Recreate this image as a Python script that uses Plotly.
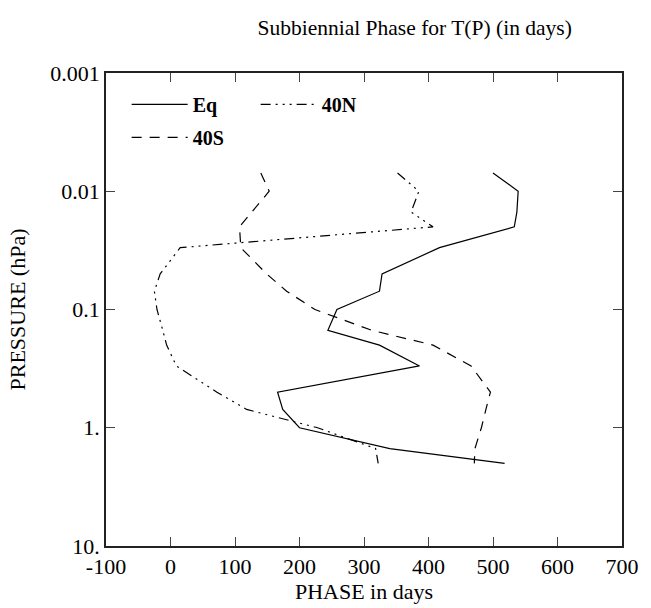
import plotly.graph_objects as go

# Pressure levels (hPa)
pressure = [0.007, 0.01, 0.015, 0.02, 0.03, 0.05, 0.07, 0.1, 0.15, 0.2, 0.3, 0.5, 0.7, 1.0, 1.5, 2.0]

# Phase in days for each series
phase_eq = [500, 539, 537, 533, 417, 328, 324, 258, 244, 324, 386, 166, 174, 200, 340, 518]
phase_40n = [352, 385, 373, 407, 15, -16, -25, -21, -12, -6, 9, 72, 118, 228, 318, 322]
phase_40s = [140, 153, 126, 107, 109, 149, 180, 224, 312, 407, 466, 496, 489, 482, 472, 471]

x_ticks = [-100, 0, 100, 200, 300, 400, 500, 600, 700]
x_tick_text = ["-100", "0", "100", "200", "300", "400", "500", "600", "700"]
y_ticks = [0.001, 0.01, 0.1, 1, 10]
y_tick_text = ["0.001", "0.01", "0.1", "1.", "10."]

FONT = "Liberation Serif, Times New Roman, serif"

fig = go.Figure()
fig.add_trace(go.Scatter(x=phase_eq, y=pressure, mode="lines", name="Eq",
                         line=dict(color="black", width=1.2, dash="solid"), legend="legend"))
fig.add_trace(go.Scatter(x=phase_40n, y=pressure, mode="lines", name="40N",
                         line=dict(color="black", width=1.2,
                                   dash="10px,5px,2px,5px,2px,5px,2px,5px"), legend="legend"))
fig.add_trace(go.Scatter(x=phase_40s, y=pressure, mode="lines", name="40S",
                         line=dict(color="black", width=1.2, dash="10px,8px"), legend="legend2"))

axis_common = dict(showline=True, linecolor="#222", linewidth=1.5, mirror="ticks",
                   ticks="inside", ticklen=9, tickwidth=1.2, tickcolor="#444",
                   showgrid=False, zeroline=False,
                   tickfont=dict(family=FONT, size=22, color="black"))

fig.update_layout(
    width=651, height=608,
    margin=dict(l=106, r=28, t=73, b=60),
    paper_bgcolor="white", plot_bgcolor="white",
    title=dict(text="Subbiennial Phase for T(P) (in days)", x=0.637, xanchor="center",
               y=0.954, yanchor="middle", yref="container",
               font=dict(family=FONT, size=21.5, color="black")),
    xaxis=dict(range=[-100, 700], tickvals=x_ticks, ticktext=x_tick_text,
               title=dict(text="PHASE in days", font=dict(family=FONT, size=22, color="black"),
                          standoff=1),
               **axis_common),
    yaxis=dict(type="log", range=[1, -3], tickvals=y_ticks, ticktext=y_tick_text,
               title=dict(text="PRESSURE (hPa)", font=dict(family=FONT, size=22, color="black"),
                          standoff=19),
               **axis_common),
    showlegend=True,
    legend=dict(orientation="h", x=0.04, y=0.975, xanchor="left", yanchor="top",
                bgcolor="rgba(0,0,0,0)", itemwidth=56, entrywidth=58,
                font=dict(family=FONT, size=20, color="black", weight="bold"),
                traceorder="normal"),
    legend2=dict(orientation="h", x=0.04, y=0.905, xanchor="left", yanchor="top",
                 bgcolor="rgba(0,0,0,0)", itemwidth=56,
                 font=dict(family=FONT, size=20, color="black", weight="bold")),
)

fig.write_html("out.html")
